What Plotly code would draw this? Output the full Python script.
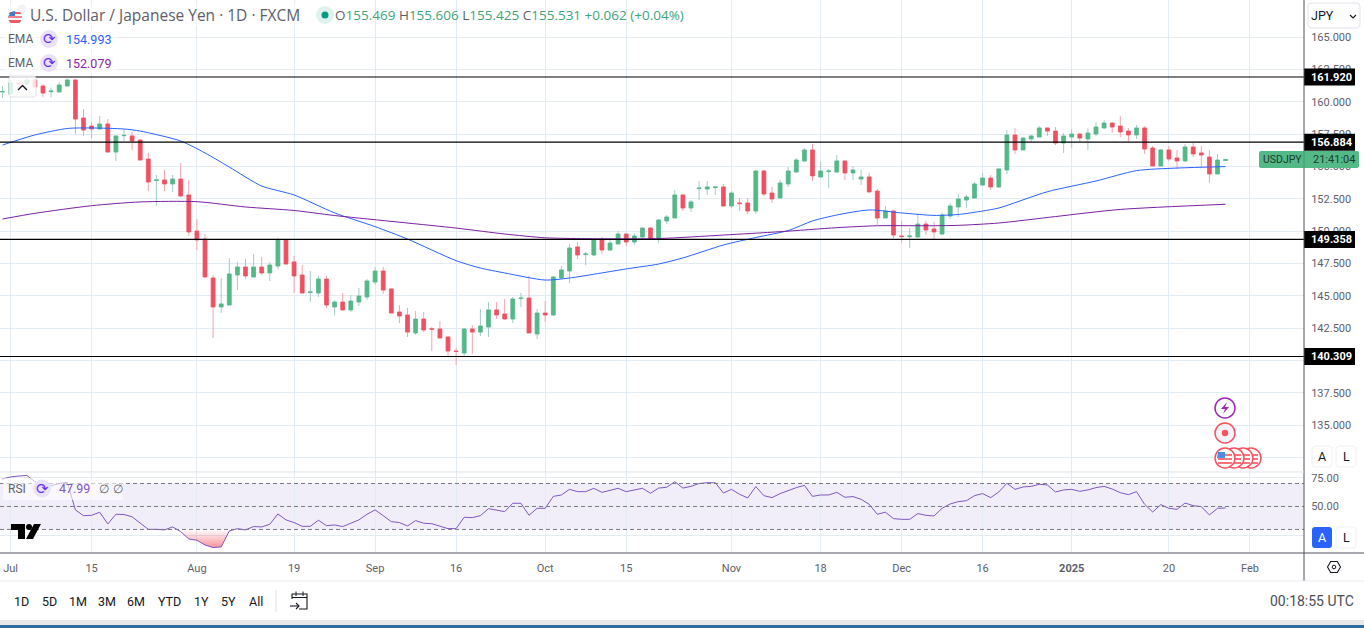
import plotly.graph_objects as go

opens = [160.76,160.60,161.46,161.38,161.69,161.22,160.79,160.76,161.22,161.69,
158.75,158.13,157.90,158.29,156.12,157.38,157.36,157.05,155.58,153.92,
153.96,153.65,154.03,152.80,150.01,149.39,146.38,144.14,144.29,146.61,
147.23,146.46,147.23,146.77,147.31,149.32,147.62,146.61,145.26,145.22,
146.30,144.14,144.52,143.91,144.52,144.91,146.07,146.92,145.53,143.75,
143.52,142.13,143.21,142.46,142.44,141.82,140.73,140.58,142.44,142.20,
142.59,143.91,143.60,143.21,144.79,144.83,142.05,143.67,143.52,146.38,
146.92,148.78,148.19,148.16,149.32,148.54,149.01,149.78,149.16,149.55,
150.24,149.39,150.79,151.02,152.80,151.79,153.29,153.26,153.37,153.42,
151.95,152.18,152.18,151.56,154.65,152.95,152.56,153.65,154.57,155.43,
156.28,154.19,154.61,154.57,155.43,154.50,154.03,154.19,153.10,151.02,
151.56,149.63,149.58,149.55,150.55,150.17,149.78,151.17,151.87,152.41,
152.56,153.57,154.11,153.42,154.73,157.44,156.28,157.13,157.28,157.98,
157.74,156.82,157.28,157.51,157.13,157.51,157.98,158.36,158.13,157.74,
157.44,157.98,156.43,155.04,156.28,155.66,155.43,156.51,156.05,155.73,
154.42,155.469]
highs = [161.22,161.69,161.69,162.00,161.77,161.38,161.11,161.50,161.80,161.77,
159.45,158.44,158.91,158.67,157.44,157.90,157.67,157.13,156.05,154.34,
154.73,154.34,155.27,153.96,150.94,149.78,146.61,146.38,147.92,147.62,
147.85,148.23,148.00,147.62,149.47,149.39,148.08,147.38,146.92,146.54,
146.54,144.68,145.22,145.06,145.61,146.30,147.23,147.23,145.61,144.29,
144.06,143.83,143.75,142.59,143.05,141.89,140.97,142.51,142.74,143.98,
144.52,144.52,144.76,144.91,145.22,146.54,143.98,144.60,146.54,147.31,
149.01,149.16,148.39,149.39,149.55,149.32,150.01,149.80,149.86,150.32,
150.32,150.94,151.25,153.18,152.87,152.41,153.88,153.88,153.49,153.65,
153.10,152.56,152.56,154.73,154.73,153.42,153.96,154.96,155.66,156.43,
156.74,155.35,154.81,155.89,155.46,155.04,154.73,154.50,153.26,151.95,
151.60,150.79,150.24,151.33,150.79,150.71,151.41,152.18,152.87,152.80,
153.80,154.50,154.34,154.88,157.82,157.98,157.28,157.44,158.13,158.00,
158.05,157.59,157.90,157.59,157.98,158.44,158.60,158.44,158.91,157.98,
158.21,158.13,156.58,156.35,156.58,156.28,156.74,156.82,156.58,156.28,
155.97,155.606]
lows = [160.30,160.60,161.15,161.38,161.15,160.37,160.34,160.76,161.22,157.51,
157.36,157.20,157.90,156.05,155.43,156.97,156.28,155.50,153.10,151.95,
153.10,153.03,152.64,149.63,148.54,146.46,141.74,143.67,144.29,145.45,
146.30,146.46,146.61,146.15,147.07,147.46,145.22,145.22,144.52,144.91,
144.06,143.52,143.91,143.75,144.21,144.68,145.84,145.14,143.67,142.90,
141.82,141.97,142.20,140.73,141.74,140.35,139.65,140.35,140.50,141.89,
141.82,143.21,143.13,142.90,144.14,142.13,141.66,142.98,143.44,146.38,
145.99,147.85,147.38,148.08,148.23,148.47,149.01,148.85,148.93,149.32,
149.39,149.08,150.55,151.02,151.56,151.48,152.41,152.80,152.80,151.87,
151.79,151.56,151.33,151.33,152.72,152.18,152.56,153.42,154.57,155.35,
153.88,154.19,153.34,154.57,153.96,153.96,153.57,153.03,150.48,151.02,
149.47,149.08,148.70,149.55,149.70,149.39,149.70,150.94,151.10,151.79,
152.49,153.49,153.18,153.34,154.42,155.97,156.28,156.90,157.28,157.36,
156.66,156.05,156.43,156.90,156.28,157.36,157.90,157.59,157.28,156.90,
157.13,155.97,155.04,155.04,155.43,154.81,155.35,155.73,154.88,153.73,
154.42,155.425]
closes = [160.80,161.46,161.40,161.69,161.15,160.68,160.84,161.30,161.69,158.67,
157.82,157.90,158.29,156.12,157.36,157.41,156.97,155.50,153.80,153.96,
153.65,154.03,152.72,149.94,149.32,146.46,144.14,144.37,146.69,147.23,
146.54,147.23,146.77,147.38,149.32,147.46,146.54,145.22,145.30,146.30,
144.29,144.52,143.91,144.60,144.99,146.15,146.92,145.45,143.67,143.44,
142.20,143.21,142.36,142.41,141.74,140.73,140.70,142.44,142.20,142.67,
143.91,143.52,143.21,144.76,144.83,142.13,143.67,143.52,146.46,147.00,
148.70,148.16,148.23,149.32,148.54,149.08,149.78,149.16,149.63,150.24,
149.39,150.86,151.10,152.80,151.79,152.26,153.34,153.42,153.42,151.95,
152.95,152.13,151.56,154.65,152.87,152.49,153.73,154.65,155.50,156.28,
154.27,154.65,154.65,155.43,154.50,154.73,154.19,153.03,151.02,151.56,
149.70,149.58,149.63,150.55,150.09,149.94,151.25,151.95,152.49,152.64,
153.65,154.11,153.42,154.81,157.44,156.28,157.20,157.36,157.98,157.74,
156.82,157.36,157.51,157.20,157.59,158.05,158.36,158.05,157.67,157.44,
157.98,156.35,155.04,156.28,155.58,155.43,156.51,155.97,155.89,154.42,
155.50,155.531]

ema_fast_bars = [0,4,8,11,15,17,22,25,28,32,36,41,46,50,56,59,62,67,70,77,81,84,89,93,97,100,103,107,111,115,118,121,123,129,135,140,145,151]
ema_fast_vals = [156.66,157.44,157.94,157.98,157.90,157.74,156.97,156.05,154.96,153.49,152.80,151.41,150.35,149.39,147.72,147.15,146.77,146.22,146.38,147.08,147.46,147.93,148.93,149.51,150.05,150.79,151.25,151.64,151.41,151.22,151.29,151.56,151.79,153.05,153.88,154.68,154.88,154.993]
ema_slow_bars = [0,4,11,17,24,30,36,41,56,62,67,72,81,89,96,103,108,114,118,123,130,138,151]
ema_slow_vals = [150.94,151.38,151.97,152.26,152.28,151.87,151.60,151.21,150.24,149.78,149.49,149.42,149.43,149.70,149.96,150.27,150.42,150.42,150.45,150.63,151.13,151.68,152.079]

rsi_vals = [73.9,75.7,76.5,77,71.6,66.4,68,70,71,47,42,42.3,45,34.8,43.2,43,41,35.4,30.1,30.1,
29.6,32.2,28.1,21.7,20.6,16.5,14.2,14.8,28.7,30.7,29.6,32.5,32.2,34.5,43.5,38.3,36,32.7,32.7,38,
33.3,33.9,32.5,35.4,38.3,43.2,47,42,36.8,36,33,37.7,35.4,35,33,30.7,30.7,40.6,40.3,42,
48.1,47,45.5,52.8,52.8,42.3,48.4,48.4,58.8,60,64.9,62.9,62.9,65.8,62.3,64,65.8,62.9,64.4,65.8,
61.5,66,66.7,71.6,66,67.5,70,70.7,70.7,61.7,64.9,60.6,57.4,67.3,59.4,57.7,61.2,64,66.4,68.4,
58.8,60,60,62.3,58,58.6,56.2,51.9,43.2,45,39.4,38.8,38.8,43.8,42.3,41.7,48.4,52.2,54.2,55,
59.4,61.2,57.7,62.6,70.2,64.9,67,67.5,69.3,68.7,62.6,64.4,64.9,63.2,64.4,66.4,67.5,65.2,62,60.3,
62.9,51.9,45.2,51.6,48.4,47.5,53,50.7,49.9,42.6,48.4,48.7]

level_prices = [161.920,156.884,149.358,140.309]
level_labels = ["161.920","156.884","149.358","140.309"]
time_tick_bars = [1,11,24,36,46,56,67,77,90,101,111,121,132,144,154]
time_tick_labels = ["Jul","15","Aug","19","Sep","16","Oct","15","Nov","18","Dec","16","<b>2025</b>","20","Feb"]
price_ticks = [165,162.5,160,157.5,155,152.5,150,147.5,145,142.5,140,137.5,135,132.5]
price_tick_labels = ["165.000","162.500","160.000","157.500","155.000","152.500","150.000","147.500","145.000","142.500","140.000","137.500","135.000",""]
range_buttons = ["1D","5D","1M","3M","6M","YTD","1Y","5Y","All"]

W, H = 1364, 628
FONT = "Roboto"
TITLEFONT = "Open Sans"
GRID = "#e3ecf2"
UP, DOWN = "#53b987", "#ef5062"
UPW, DOWNW = "#a3cdc8", "#f5a3ad"
AXC = "#50535e"
PLOT_R, PANE, PANE_B = 1304, 472, 553
YTOP = 167.874
PPP = 0.07732          # price per pixel
YBOT = YTOP - PANE * PPP
BAR0, BARW = 2.5, 8.1

def X(p): return p / W
def Y(p): return 1 - p / H
def price_px(v): return (YTOP - v) / PPP

shapes, notes = [], []
def rect(x0, y0, x1, y1, fill, line=None, lw=0, layer="above"):
    shapes.append(dict(type="rect", xref="paper", yref="paper", x0=X(x0), x1=X(x1), y0=Y(y1), y1=Y(y0),
                       fillcolor=fill, line=dict(color=line or "rgba(0,0,0,0)", width=lw), layer=layer))
def circ(cx, cy, r, fill, line=None, lw=0, layer="above"):
    shapes.append(dict(type="circle", xref="paper", yref="paper", x0=X(cx - r), x1=X(cx + r), y0=Y(cy + r), y1=Y(cy - r),
                       fillcolor=fill, line=dict(color=line or "rgba(0,0,0,0)", width=lw), layer=layer))
def seg(x0, y0, x1, y1, color, lw=1, layer="above"):
    shapes.append(dict(type="line", xref="paper", yref="paper", x0=X(x0), x1=X(x1), y0=Y(y0), y1=Y(y1),
                       line=dict(color=color, width=lw), layer=layer))
def path(points, fill=None, line=None, lw=0, close=True):
    d = "M " + " L ".join(f"{X(a):.5f},{Y(b):.5f}" for a, b in points) + (" Z" if close else "")
    shapes.append(dict(type="path", xref="paper", yref="paper", path=d, fillcolor=fill or "rgba(0,0,0,0)",
                       line=dict(color=line or "rgba(0,0,0,0)", width=lw), layer="above"))
def rrect(x0, y0, x1, y1, r, fill, line=None, lw=0):
    d = (f"M {X(x0+r):.5f},{Y(y0):.5f} L {X(x1-r):.5f},{Y(y0):.5f} Q {X(x1):.5f},{Y(y0):.5f} {X(x1):.5f},{Y(y0+r):.5f} "
         f"L {X(x1):.5f},{Y(y1-r):.5f} Q {X(x1):.5f},{Y(y1):.5f} {X(x1-r):.5f},{Y(y1):.5f} "
         f"L {X(x0+r):.5f},{Y(y1):.5f} Q {X(x0):.5f},{Y(y1):.5f} {X(x0):.5f},{Y(y1-r):.5f} "
         f"L {X(x0):.5f},{Y(y0+r):.5f} Q {X(x0):.5f},{Y(y0):.5f} {X(x0+r):.5f},{Y(y0):.5f} Z")
    shapes.append(dict(type="path", xref="paper", yref="paper", path=d, fillcolor=fill,
                       line=dict(color=line or "rgba(0,0,0,0)", width=lw), layer="above"))
def txt(x, y, s, size=12, color="#555", anchor="left", family=FONT):
    notes.append(dict(xref="paper", yref="paper", x=X(x), y=Y(y), text=s, showarrow=False, xanchor=anchor,
                      yanchor="middle", borderpad=0, borderwidth=0, font=dict(size=size, color=color, family=family)))

bars = list(range(len(opens)))
fig = go.Figure()
fig.add_trace(go.Candlestick(x=bars, open=opens, high=highs, low=lows, close=closes, whiskerwidth=0,
    increasing=dict(line=dict(color=UPW, width=1), fillcolor=UPW),
    decreasing=dict(line=dict(color=DOWNW, width=1), fillcolor=DOWNW), hoverinfo="skip", showlegend=False))
body_top = [max(a, b) for a, b in zip(opens, closes)]
body_bot = [min(a, b) for a, b in zip(opens, closes)]
fig.add_trace(go.Candlestick(x=bars, open=opens, high=body_top, low=body_bot, close=closes, whiskerwidth=0,
    increasing=dict(line=dict(color=UP, width=0.5), fillcolor=UP),
    decreasing=dict(line=dict(color=DOWN, width=0.5), fillcolor=DOWN), hoverinfo="skip", showlegend=False))
fig.add_trace(go.Scatter(x=ema_fast_bars, y=ema_fast_vals, mode="lines", line=dict(color="#2962ff", width=1, shape="spline", smoothing=0.7), hoverinfo="skip", showlegend=False))
fig.add_trace(go.Scatter(x=ema_slow_bars, y=ema_slow_vals, mode="lines", line=dict(color="#7b1fa2", width=1, shape="spline", smoothing=0.7), hoverinfo="skip", showlegend=False))

# RSI pane
low_idx = [i for i, v in enumerate(rsi_vals) if v < 30]
fx = list(range(min(low_idx) - 1, max(low_idx) + 2))
fig.add_trace(go.Scatter(x=fx, y=[30] * len(fx), mode="lines", line=dict(width=0), xaxis="x2", yaxis="y2", hoverinfo="skip", showlegend=False))
fig.add_trace(go.Scatter(x=fx, y=[min(rsi_vals[i], 30) for i in fx], mode="lines", line=dict(width=0), fill="tonexty",
    fillgradient=dict(type="vertical", start=14, stop=30,
                      colorscale=[[0, "rgba(242,54,69,0.55)"], [1, "rgba(242,54,69,0.0)"]]),
    xaxis="x2", yaxis="y2", hoverinfo="skip", showlegend=False))
fig.add_trace(go.Scatter(x=bars, y=rsi_vals, mode="lines", line=dict(color="#7e57c2", width=1), xaxis="x2", yaxis="y2", hoverinfo="skip", showlegend=False))

xr = [(0 - BAR0) / BARW, (PLOT_R - BAR0) / BARW]
# RSI band and levels
shapes.append(dict(type="rect", xref="paper", yref="y2", x0=0, x1=X(PLOT_R), y0=30, y1=70, fillcolor="rgba(126,87,194,0.1)", line=dict(width=0), layer="below"))
for lvl in [70, 50, 30]:
    shapes.append(dict(type="line", xref="paper", yref="y2", x0=0, x1=X(PLOT_R), y0=lvl, y1=lvl, line=dict(color="#787b86", width=1, dash="4px,3px"), layer="above"))

# Horizontal drawn levels with price tags
for v, lab in zip(level_prices, level_labels):
    shapes.append(dict(type="line", xref="paper", yref="y", x0=0, x1=X(PLOT_R), y0=v, y1=v, line=dict(color="#000", width=1.2), layer="above"))
    py = price_px(v)
    rect(PLOT_R, py - 8.5, 1355, py + 8.5, "#000")
    txt(1331.5, py, f"<b>{lab}</b>", 11, "#fff", "center")

# Axis frame
seg(PLOT_R, 0, PLOT_R, 581, AXC, 1)
seg(0, PANE_B, PLOT_R + 60, PANE_B, AXC, 1)
seg(0, PANE, PLOT_R, PANE, "#e0e3eb", 1)
seg(0, 581, W, 581, "#e9ebf0", 1)
# bottom strip
rect(0, 620, W, 625, "#e8e8e8")
rect(0, 625, W, 628, "#2b6c9e")

# Live label
rrect(1259, 151, 1359, 168, 2, UP)
seg(PLOT_R, 151, PLOT_R, 168, "#3f9c70", 1)
txt(1263, 159.5, "USDJPY", 10.5, "#1e3a2f")
txt(1355, 159.5, "21:41:04", 11, "#1e3a2f", "right")

# Legend block
rect(3, 4, 305, 26, "rgba(255,255,255,0.6)")
circ(22, 9, 4.5, "#f3f3f7")
circ(15, 17, 7, "#fff")
path([(8.5, 14), (21.5, 14), (20, 12), (10, 12)], fill="#f05a63")
path([(8.5, 20), (21.5, 20), (19.5, 23), (10.5, 23)], fill="#f05a63")
seg(8, 17, 22, 17, "#f05a63", 1.5)
path([(8.5, 16), (15, 16), (15, 11), (11, 12)], fill="#3d7fd9")
txt(30, 15.5, "U.S. Dollar / Japanese Yen · 1D · FXCM", 15.5, "#5d606b", family=TITLEFONT)
circ(325, 15, 9, "#dff2ee")
circ(325, 15, 3.5, "#089981")
G = "#3fa37a"
ohlc = "".join(f"<span style='color:#5d606b'>{a}</span><span style='color:{G}'>{b}</span> " for a, b in
               [("O", "155.469"), ("H", "155.606"), ("L", "155.425"), ("C", "155.531")])
txt(335, 15.5, ohlc + f"<span style='color:{G}'>+0.062 (+0.04%)</span>", 13.5, G, family=TITLEFONT)

for y, val, col in [(39, "154.993", "#2962ff"), (63, "152.079", "#8e24aa")]:
    rect(3, y - 11, 118, y + 11, "rgba(255,255,255,0.6)")
    txt(8, y, "EMA", 12, "#5d606b")
    circ(49, y, 9, "#e9e2fb")
    txt(49, y, "⟳", 15, "#6a2ff0", "center", "DejaVu Sans")
    txt(66, y, val, 12.5, col)

# Collapse button
rrect(9, 76, 36, 97, 3, "rgba(255,255,255,0.8)", "#e0e3eb", 1)
path([(18, 90), (22.5, 85.5), (27, 90)], line="#131722", lw=1.4, close=False)

# JPY selector
rrect(1308, 3, 1360, 28, 4, "#fff", "#e0e3eb", 1)
txt(1311, 15.5, "JPY", 12.5, "#131722")
path([(1350, 15), (1353, 18), (1356, 15)], line="#131722", lw=1.1, close=False)

# A / L buttons
rrect(1312, 446, 1332, 467, 4, "#fff", "#eef0f3", 1)
txt(1322, 456.5, "A", 12.5, "#131722", "center")
rrect(1336, 446, 1356, 467, 4, "#fff", "#eef0f3", 1)
txt(1346, 456.5, "L", 12.5, "#131722", "center")
rrect(1312, 527, 1332, 548, 3, "#2962ff")
txt(1322, 537.5, "A", 12.5, "#fff", "center")
rrect(1336, 527, 1356, 548, 3, "#fff", "#eef0f3", 1)
txt(1346, 537.5, "L", 12.5, "#131722", "center")

# Settings hexagon
path([(1327.5, 567), (1330.7, 561.5), (1337.3, 561.5), (1340.5, 567), (1337.3, 572.5), (1330.7, 572.5)], line="#131722", lw=1.1)
circ(1334, 567, 1.8, "#fff", "#131722", 1)

# Events
circ(1225, 408, 10, "#fff", "#9c27b0", 1.5)
path([(1227, 402), (1221, 409), (1225, 409), (1223, 414), (1229, 407), (1225, 407)], fill="#9c27b0")
circ(1225, 433, 10, "#f3f3f8", "#f7525f", 1.5)
circ(1225, 433, 3.2, "#f7525f")
for cx in [1251, 1243, 1234, 1225]:
    circ(cx, 458, 10, "#fff", "#f7525f", 1.5)
    for dy in [-3, 1, 5]:
        seg(cx - 7, 458 + dy, cx + 7, 458 + dy, "#f7525f", 1.6)
path([(1218, 452), (1225, 452), (1225, 458), (1217, 458)], fill="#4a90e2")

# RSI legend
rect(3, 478, 123, 500, "rgba(255,255,255,0.6)")
txt(8, 488.5, "RSI", 12, "#5d606b")
circ(42, 488.5, 9, "#e9e2fb")
txt(42, 488.5, "⟳", 15, "#6a2ff0", "center", "DejaVu Sans")
txt(59, 488.5, "47.99", 12.5, "#7e57c2")
txt(99, 488.5, "∅", 12, "#5d606b")
txt(113, 488.5, "∅", 12, "#5d606b")

# TV logo
path([(11, 524), (25, 524), (25, 539), (18, 539), (18, 530), (11, 530)], fill="#000")
circ(29, 527, 3, "#000")
path([(34, 524), (41, 524), (33, 539), (26, 539)], fill="#000")

# Bottom toolbar
for s, cx in zip(range_buttons, [21, 49, 78, 107, 136, 169, 201, 228, 256]):
    txt(cx, 601, s, 12.5, "#131722", "center")
seg(276, 590, 276, 612, "#e0e3eb", 1)
path([(292, 599), (292, 594), (307, 594), (307, 609), (299, 609)], line="#131722", lw=1.1, close=False)
seg(292, 597.5, 307, 597.5, "#131722", 1)
seg(296, 591.5, 296, 596, "#131722", 1)
seg(303, 591.5, 303, 596, "#131722", 1)
path([(290, 606), (299, 606)], line="#131722", lw=1.1, close=False)
path([(296, 603), (299, 606), (296, 609)], line="#131722", lw=1.1, close=False)
txt(1354, 601, "00:18:55 UTC", 14, "#4a4d57", "right")

fig.update_layout(
    width=W, height=H, margin=dict(l=0, r=0, t=0, b=0), paper_bgcolor="#fff", plot_bgcolor="#fff",
    showlegend=False, boxmode="overlay", boxgap=0.33, hovermode=False,
    xaxis=dict(domain=[0, X(PLOT_R)], range=xr, anchor="y", rangeslider=dict(visible=False), tickmode="array",
               tickvals=time_tick_bars, ticktext=[""] * len(time_tick_bars), showgrid=True, gridcolor=GRID, gridwidth=1,
               zeroline=False, showline=False, ticks=""),
    yaxis=dict(domain=[Y(PANE), 1], range=[YBOT, YTOP], side="right", anchor="x", tickmode="array",
               tickvals=price_ticks, ticktext=price_tick_labels, showgrid=True, gridcolor=GRID, gridwidth=1,
               zeroline=False, showline=False, ticks="outside", ticklen=4, tickcolor="rgba(0,0,0,0)",
               tickfont=dict(size=11, color="#5d606b", family=FONT)),
    xaxis2=dict(domain=[0, X(PLOT_R)], range=xr, anchor="y2", tickmode="array", tickvals=time_tick_bars,
                ticktext=time_tick_labels, showgrid=True, gridcolor=GRID, gridwidth=1, zeroline=False, showline=False,
                ticks="outside", ticklen=5, tickcolor="rgba(0,0,0,0)", tickfont=dict(size=11, color="#5d606b", family=FONT)),
    yaxis2=dict(domain=[Y(PANE_B), Y(PANE)], range=[9.5, 80], side="right", anchor="x2", tickmode="array",
                tickvals=[25, 50, 75], ticktext=["", "50.00", "75.00"], showgrid=True, gridcolor=GRID, gridwidth=1,
                zeroline=False, showline=False, ticks="outside", ticklen=4, tickcolor="rgba(0,0,0,0)",
                tickfont=dict(size=11, color="#5d606b", family=FONT)),
    shapes=shapes, annotations=notes,
)
fig.write_html("out.html", config=dict(displayModeBar=False),
               post_script="document.body.style.margin='0';document.body.style.overflow='hidden';")
